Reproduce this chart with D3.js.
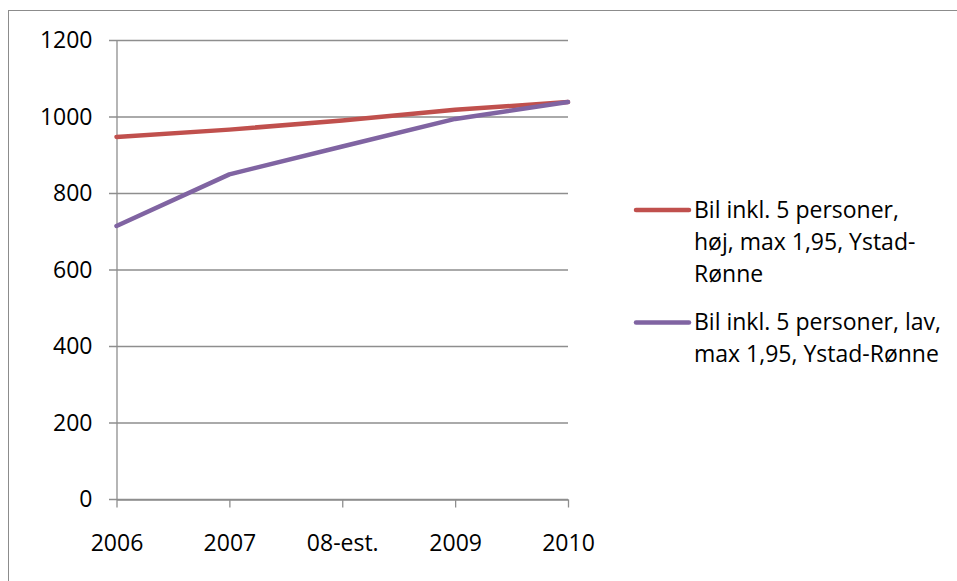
<!DOCTYPE html>
<html>
<head>
<meta charset="utf-8">
<script src="https://cdn.jsdelivr.net/npm/d3@7/dist/d3.min.js"></script>
<style>
  html, body { margin: 0; padding: 0; background: #fff; }
  svg { display: block; font-family: "Open Sans", sans-serif; }
</style>
</head>
<body>
<svg id="chart" width="957" height="581"></svg>
<script>
// data
const categories = ["2006", "2007", "08-est.", "2009", "2010"]
const hoejValues = [948, 967, 991, 1019, 1039]
const lavValues = [715, 850, 923, 995, 1039]
const yTicks = [0, 200, 400, 600, 800, 1000, 1200]
const seriesNames = [
	["Bil inkl. 5 personer,", "høj, max 1,95, Ystad-", "Rønne"],
	["Bil inkl. 5 personer, lav,", "max 1,95, Ystad-Rønne"]
]
const seriesColors = ["#c0504d", "#8064a2"]

const fontSize = 23
const svg = d3.select("#chart")

// outer frame (runs off the right/bottom edge like the screenshot)
svg.append("rect").attr("x", 8.5).attr("y", 10.5).attr("width", 1000).attr("height", 1000)
	.attr("fill", "none").attr("stroke", "#8c8c8c").attr("stroke-width", 1)

const x = d3.scalePoint().domain(categories).range([116.5, 568])
const y = d3.scaleLinear().domain([0, 1200]).range([499.5, 40.5])

// gridlines
svg.append("g").selectAll("line").data(yTicks).join("line")
	.attr("x1", 109).attr("x2", 568)
	.attr("y1", d => y(d)).attr("y2", d => y(d))
	.attr("stroke", "#8e8e8e").attr("stroke-width", 1.3)

// y axis
const yAxis = svg.append("g").attr("transform", "translate(116.5,0)")
	.call(d3.axisLeft(y).tickValues(yTicks).tickFormat(d3.format("d")).tickSize(0).tickPadding(24))
yAxis.select(".domain").attr("stroke", "#8e8e8e").attr("stroke-width", 1.3)
yAxis.selectAll("text").attr("font-size", fontSize).attr("fill", "#000").attr("font-family", "Open Sans, sans-serif")

// x axis
const xAxis = svg.append("g").attr("transform", "translate(0,499.5)")
	.call(d3.axisBottom(x).tickSize(8).tickSizeOuter(0).tickPadding(27))
xAxis.select(".domain").attr("stroke", "#8e8e8e").attr("stroke-width", 1.3)
xAxis.selectAll("line").attr("stroke", "#8e8e8e").attr("stroke-width", 1.3)
xAxis.selectAll("text").attr("font-size", fontSize).attr("fill", "#000").attr("font-family", "Open Sans, sans-serif")

// lines
const line = d3.line().x((d, i) => x(categories[i])).y(d => y(d))
;[hoejValues, lavValues].forEach((vals, i) => {
	svg.append("path").datum(vals).attr("d", line)
		.attr("fill", "none").attr("stroke", seriesColors[i]).attr("stroke-width", 4.5)
		.attr("stroke-linejoin", "round").attr("stroke-linecap", "round")
})

// legend
const legendTop = [210, 322.5]
const lineH = 32
seriesNames.forEach((lines, i) => {
	const g = svg.append("g").attr("transform", `translate(0,${legendTop[i]})`)
	g.append("line").attr("x1", 636).attr("x2", 689).attr("y1", 0).attr("y2", 0)
		.attr("stroke", seriesColors[i]).attr("stroke-width", 4.5).attr("stroke-linecap", "round")
	g.append("text").attr("x", 694).attr("y", 0).attr("font-size", fontSize).attr("fill", "#000")
		.selectAll("tspan").data(lines).join("tspan")
		.attr("x", 694).attr("dy", (d, j) => j === 0 ? "0.33em" : lineH)
		.text(d => d)
})
</script>
</body>
</html>
